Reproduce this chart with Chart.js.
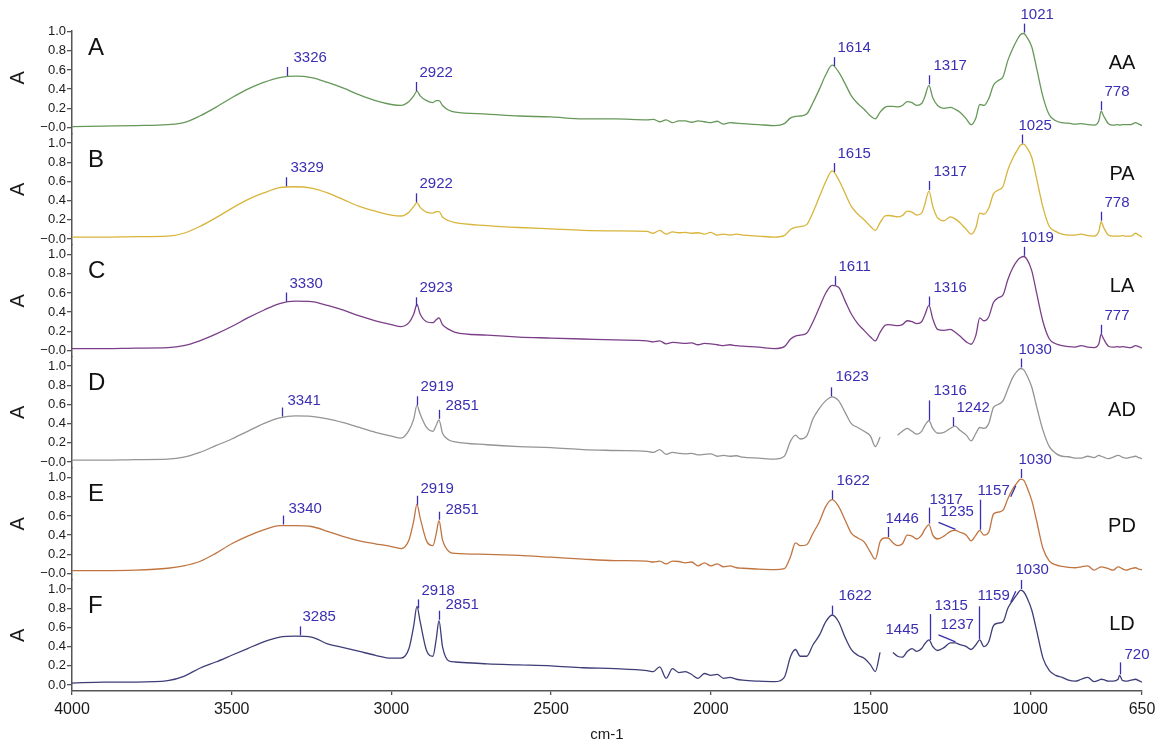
<!DOCTYPE html>
<html><head><meta charset="utf-8">
<script src="https://cdn.jsdelivr.net/npm/chart.js@4/dist/chart.umd.min.js"></script>
<style>html,body{margin:0;padding:0;background:#fff}#wrap{width:1159px;height:744px;position:relative}</style>
</head><body><div id="wrap"><canvas id="c" width="1159" height="744"></canvas></div>
<script>
const wavenumbers = [4000,3900,3800,3700,3650,3600,3550,3500,3450,3400,3350,3300,3250,3200,3150,3100,3050,3000,2970,2945,2930,2920,2910,2890,2870,2860,2851,2840,2820,2800,2700,2600,2500,2400,2300,2200,2180,2160,2140,2120,2100,2080,2060,2040,2020,2000,1980,1960,1940,1920,1900,1850,1800,1770,1750,1735,1720,1700,1680,1660,1640,1620,1600,1580,1560,1540,1520,1500,1485,1470,1455,1445,1430,1415,1400,1385,1370,1355,1340,1330,1317,1305,1290,1270,1250,1235,1220,1200,1185,1170,1158,1145,1130,1115,1100,1085,1070,1055,1040,1030,1020,1010,995,980,960,940,920,900,880,860,840,820,800,785,778,770,755,740,725,720,712,700,685,670,660,650];

const absAA = [.01,.015,.02,.03,.05,.12,.21,.31,.40,.47,.52,.535,.52,.47,.41,.34,.28,.24,.23,.27,.33,.38,.33,.28,.26,.28,.28,.23,.18,.16,.14,.12,.11,.09,.09,.08,.085,.06,.08,.05,.07,.07,.055,.07,.06,.05,.065,.035,.05,.045,.04,.03,.02,.04,.10,.115,.12,.14,.26,.40,.55,.65,.58,.46,.33,.25,.19,.12,.09,.16,.21,.22,.22,.215,.23,.27,.26,.23,.25,.32,.44,.31,.23,.20,.21,.19,.16,.09,.03,.10,.24,.23,.30,.44,.49,.53,.70,.82,.92,.97,.98,.94,.84,.62,.32,.13,.07,.05,.045,.035,.04,.03,.025,.07,.17,.12,.04,.025,.03,.025,.03,.03,.03,.05,.035,.02];

const absPA = [.02,.02,.025,.03,.06,.13,.22,.32,.41,.48,.535,.545,.53,.48,.41,.34,.29,.25,.24,.28,.34,.38,.33,.28,.27,.285,.285,.23,.19,.17,.14,.12,.105,.09,.085,.08,.06,.09,.05,.075,.065,.07,.06,.065,.05,.07,.04,.05,.04,.05,.04,.03,.02,.035,.10,.12,.13,.15,.28,.44,.60,.71,.62,.48,.34,.26,.20,.13,.09,.17,.24,.245,.24,.23,.245,.29,.28,.25,.27,.36,.50,.34,.22,.19,.23,.21,.17,.10,.05,.12,.27,.26,.32,.47,.51,.55,.72,.84,.93,.98,.99,.95,.85,.63,.33,.13,.08,.05,.04,.04,.05,.035,.03,.08,.18,.12,.04,.03,.03,.03,.035,.03,.03,.06,.04,.02];

const absLA = [.02,.02,.025,.03,.05,.10,.17,.25,.34,.42,.49,.515,.51,.47,.42,.36,.31,.27,.25,.29,.38,.48,.38,.30,.29,.32,.34,.27,.22,.19,.16,.14,.13,.12,.11,.10,.09,.10,.07,.085,.08,.075,.08,.06,.075,.07,.06,.05,.06,.05,.045,.035,.02,.04,.12,.15,.16,.18,.30,.45,.60,.68,.66,.52,.38,.28,.21,.14,.10,.19,.26,.27,.265,.26,.27,.31,.30,.28,.30,.37,.47,.33,.22,.21,.22,.19,.15,.09,.065,.16,.34,.31,.35,.50,.55,.58,.74,.86,.94,.97,.98,.95,.83,.60,.30,.12,.07,.05,.04,.035,.05,.035,.03,.07,.17,.12,.045,.035,.04,.035,.04,.035,.03,.05,.04,.025];

const absAD = [.02,.02,.025,.03,.05,.10,.17,.24,.32,.40,.46,.48,.475,.45,.41,.36,.31,.27,.25,.33,.45,.59,.50,.36,.32,.38,.44,.30,.23,.21,.18,.16,.15,.13,.12,.11,.10,.13,.08,.10,.09,.085,.09,.075,.08,.085,.06,.07,.06,.065,.05,.04,.03,.06,.22,.28,.24,.27,.45,.56,.64,.68,.64,.52,.40,.36,.32,.27,.16,.26,null,null,null,.28,.32,.35,.32,.29,.32,.38,.43,.35,.30,.31,.35,.375,.33,.28,.22,.30,.36,.35,.40,.57,.60,.64,.76,.88,.95,.975,.96,.90,.78,.58,.33,.16,.09,.06,.055,.04,.04,.06,.045,.07,.06,.05,.035,.05,.07,.065,.05,.04,.05,.06,.045,.035];

const absPD = [.03,.03,.035,.055,.08,.125,.21,.31,.39,.455,.50,.50,.49,.44,.385,.34,.31,.28,.26,.35,.55,.72,.58,.34,.29,.41,.55,.35,.23,.21,.20,.19,.17,.15,.135,.13,.12,.13,.10,.13,.125,.11,.12,.08,.11,.08,.10,.07,.08,.06,.055,.045,.04,.05,.18,.32,.29,.30,.42,.54,.70,.77,.70,.56,.42,.37,.33,.22,.15,.33,.37,.37,.32,.29,.31,.40,.39,.36,.40,.46,.51,.40,.36,.39,.44,.45,.43,.40,.34,.40,.45,.40,.43,.62,.64,.66,.78,.88,.95,.985,.97,.90,.76,.55,.26,.13,.09,.075,.065,.06,.07,.08,.035,.06,.07,.065,.05,.035,.07,.065,.05,.035,.05,.06,.045,.04];

const absLD = [.02,.03,.03,.045,.09,.175,.24,.31,.38,.45,.50,.51,.50,.43,.39,.35,.31,.28,.28,.38,.62,.82,.66,.36,.30,.47,.67,.40,.25,.24,.22,.21,.20,.18,.17,.15,.14,.19,.07,.17,.13,.14,.11,.07,.12,.10,.11,.07,.08,.06,.05,.04,.035,.08,.30,.37,.30,.30,.42,.52,.66,.73,.66,.50,.37,.31,.28,.21,.14,.34,null,null,.34,.30,.29,.35,.38,.35,.38,.43,.47,.40,.36,.39,.44,.44,.42,.40,.37,.42,.47,.40,.45,.62,.645,.66,.80,.88,.95,.99,.97,.91,.78,.57,.28,.15,.10,.08,.05,.04,.06,.08,.035,.05,.06,.055,.04,.04,.06,.10,.05,.04,.05,.06,.045,.03];

const sampleNames = ['AA','PA','LA','AD','PD','LD'];
const panelLetters = ['A','B','C','D','E','F'];
const peaksAA = [3326,2922,1614,1317,1021,778];
const peaksPA = [3329,2922,1615,1317,1025,778];
const peaksLA = [3330,2923,1611,1316,1019,777];
const peaksAD = [3341,2919,2851,1623,1316,1242,1030];
const peaksPD = [3340,2919,2851,1622,1446,1317,1235,1157,1030];
const peaksLD = [3285,2918,2851,1622,1445,1315,1237,1159,1030,720];
const xTickValues = [4000,3500,3000,2500,2000,1500,1000,650];
const yTickValues = [0,0.2,0.4,0.6,0.8,1.0];

// ---- styling / layout (not data) ----
const FONT = '"Liberation Sans", Arial, Helvetica, sans-serif';
const ANNOT_COLOR = '#3a2fb2';
const lineColors = ['#66985a','#d8b43a','#7a3f88','#949494','#c07440','#3d3d78'];
const allValues = [absAA,absPA,absLA,absAD,absPD,absLD];
const allPeaks = [peaksAA,peaksPA,peaksLA,peaksAD,peaksPD,peaksLD];
const nameLevel = [0.67,0.67,0.67,0.54,0.49,0.63];
const annotLayout = [
  {3326:{dx:6}, 1317:{dx:4}, 1021:{dx:-4}},
  {3329:{dx:4}, 1317:{dx:4}, 1025:{dx:-4}},
  {3330:{dx:3}, 1316:{dx:4}, 1019:{dx:-4}},
  {3341:{dx:5,dy:-7}, 2851:{dx:6,dy:-4}, 1623:{dx:4,dy:-10}, 1316:{len:20,dx:4,dy:-10}, 1030:{dx:-3}},
  {3340:{dx:5,dy:-7}, 2919:{dy:-7}, 2851:{dx:6,dy:-2,len:8}, 1622:{dx:4}, 1446:{dx:-3,len:10,dy:-8}, 1317:{len:16,dx:0,dy:-8}, 1235:{leader:true}, 1157:{len:30,dx:-3,slash:true}, 1030:{dx:-3}},
  {3285:{dx:2,dy:-10}, 2851:{dx:6,dy:-6}, 1622:{dx:6,dy:-10}, 1445:{noTick:true,level:0.58,dx:-3,dy:0}, 1315:{len:26,dx:4,dy:-8}, 1237:{leader:true}, 1159:{len:33,dx:-2,dy:-10,slash:true}, 1030:{dx:-6,dy:-10}, 720:{len:12,dx:4,dy:-8}}
];

function valueAt(arr, w){
  for (let i=0;i<wavenumbers.length-1;i++){
    const a=wavenumbers[i], b=wavenumbers[i+1];
    if (w<=a && w>=b){
      const va=arr[i], vb=arr[i+1];
      if (va==null || vb==null) return va ?? vb;
      const t=(a-w)/(a-b);
      return va+(vb-va)*t;
    }
  }
  return null;
}

const annotPlugin = {
  id:'annot',
  afterDraw(chart){
    const ctx=chart.ctx, xs=chart.scales.x, ca=chart.chartArea;
    ctx.save();
    // the axis line starts at the top panel's 1.0 tick
    const topY = chart.scales.y0.getPixelForValue(1.0);
    ctx.fillStyle='#fff';
    ctx.fillRect(ca.left-3, 0, 6, Math.floor(topY)-1);
    const line=(x1,y1,x2,y2)=>{ctx.beginPath();ctx.moveTo(x1,y1);ctx.lineTo(x2,y2);ctx.stroke();};
    allValues.forEach((vals,k)=>{
      const ys=chart.scales['y'+k];
      ctx.fillStyle='#111'; ctx.textBaseline='middle'; ctx.textAlign='left';
      ctx.font='24px '+FONT;
      ctx.fillText(panelLetters[k], ca.left+16, ys.getPixelForValue(0.82));
      ctx.font='20px '+FONT; ctx.textAlign='center';
      ctx.fillText(sampleNames[k], 1122, ys.getPixelForValue(nameLevel[k]));
      ctx.strokeStyle=ANNOT_COLOR; ctx.fillStyle=ANNOT_COLOR; ctx.lineWidth=1.3;
      ctx.font='15px '+FONT; ctx.textAlign='left';
      allPeaks[k].forEach(w=>{
        const o=Object.assign({len:9,dx:3,dy:-9}, annotLayout[k][w]||{});
        const px=Math.round(xs.getPixelForValue(w))+0.5;
        let base;
        if (o.level!=null) base=ys.getPixelForValue(o.level);
        else base=ys.getPixelForValue(valueAt(vals,w))-1;
        let tx=px, ty=base;
        if (o.leader){
          const ex=px-17, ey=base-7;
          line(px,base,ex,ey); tx=ex+2; ty=ey-10; o.dx=0; o.dy=0;
        } else if (!o.noTick){
          line(px,base,px,base-o.len); ty=base-o.len;
        }
        const label=String(w);
        const lx=tx+o.dx, ly=ty+o.dy;
        ctx.fillText(label, lx, ly);
        if (o.slash){
          const wdt=ctx.measureText(label).width;
          line(lx+wdt+1, ly+6, lx+wdt+6, ly-5);
        }
      });
    });
    ctx.restore();
  }
};

const datasets = allValues.map((vals,k)=>({
  label: sampleNames[k],
  data: wavenumbers.map((w,i)=>({x:w, y:vals[i]})),
  yAxisID: 'y'+k,
  borderColor: lineColors[k],
  borderWidth: 1.3,
  pointRadius: 0,
  fill: false,
  spanGaps: false,
  cubicInterpolationMode: 'monotone'
}));

const scales = {
  x: {
    type:'linear', position:'bottom', reverse:true, min:650, max:4000,
    afterBuildTicks: s => { s.ticks = xTickValues.map(v=>({value:v})); },
    afterFit: s => { s.height = 53; s.paddingRight = 0; s.paddingLeft = 0; },
    grid:{drawOnChartArea:false, drawTicks:true, tickLength:4, color:'#555', lineWidth:1.3},
    border:{display:true, color:'#555', width:1.5},
    ticks:{autoSkip:false, maxRotation:0, padding:5, color:'#1a1a1a', font:{family:FONT, size:16},
      callback: v => String(v)},
    title:{display:true, text:'cm-1', color:'#1a1a1a', font:{family:FONT, size:15}, padding:{top:2,bottom:0}}
  }
};
// define from bottom (F) to top (A): last-defined left axis is placed on top of the stack
for (let k=5;k>=0;k--){
  scales['y'+k] = {
    type:'linear', position:'left', stack:'ftir', stackWeight:1, min:-0.0625, max:1.1,
    afterBuildTicks: s => { s.ticks = yTickValues.map(v=>({value:v})); },
    afterFit: s => { s.width = 72; },
    grid:{drawOnChartArea:false, drawTicks:true, tickLength:5, color:'#555', lineWidth:1.3},
    border:{display:true, color:'#555', width:1.5},
    ticks:{autoSkip:false, padding:1, color:'#1a1a1a', font:{family:FONT, size:13},
      callback: v => (v===0 && k<5) ? '\u22120.0' : v.toFixed(1)},
    title:{display:true, text:'A', color:'#1a1a1a', font:{family:FONT, size:20}, padding:{top:6,bottom:0}}
  };
}

new Chart(document.getElementById('c'), {
  type:'line',
  data:{datasets},
  options:{
    responsive:false, animation:false, devicePixelRatio:1,
    layout:{padding:{top:22, right:17, left:0, bottom:0}},
    plugins:{legend:{display:false}, tooltip:{enabled:false}},
    scales
  },
  plugins:[annotPlugin]
});
</script>
</body></html>
